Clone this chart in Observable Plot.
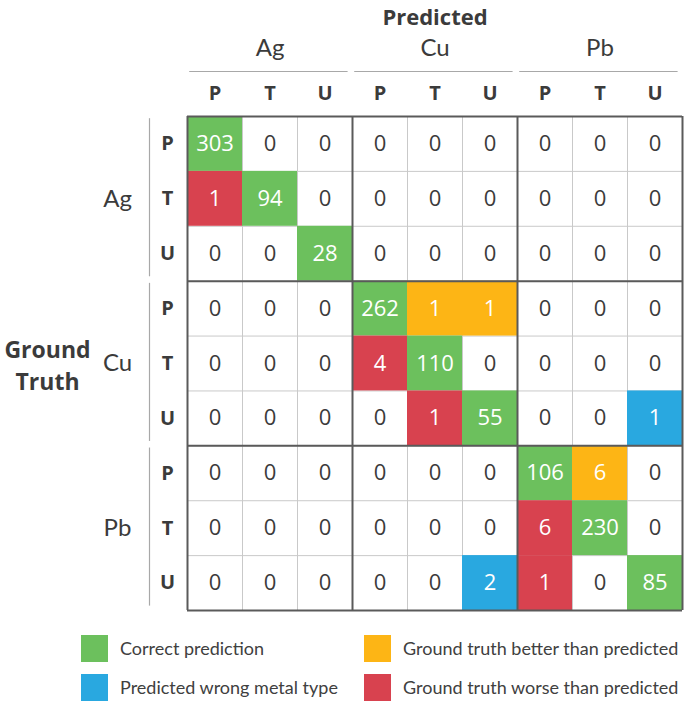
<!DOCTYPE html>
<html>
<head>
<meta charset="utf-8">
<script src="https://cdn.jsdelivr.net/npm/d3@7"></script>
<script src="https://cdn.jsdelivr.net/npm/@observablehq/plot@0.6"></script>
<style>
  html, body { margin: 0; padding: 0; background: #fff; }
  #wrap { position: relative; width: 685px; height: 704px; }
  #legend { position: absolute; left: 0; top: 0; width: 685px; height: 704px; pointer-events: none; }
  .sw { position: absolute; width: 27px; height: 27px; }
  .lt { position: absolute; font-family: Lato, "Open Sans", sans-serif; font-size: 18px; color: #404040; line-height: 27px; white-space: nowrap; }
</style>
</head>
<body>
<div id="wrap"><div id="chart"></div><div id="legend"></div></div>
<script>
// ---- data ----
const metals = ["Ag", "Cu", "Pb"];
const classes = ["P", "T", "U"];
// rows = ground truth (Ag P,T,U, Cu P,T,U, Pb P,T,U); columns = predicted (same order)
const rowAgP = [303, 0, 0, 0, 0, 0, 0, 0, 0];
const rowAgT = [1, 94, 0, 0, 0, 0, 0, 0, 0];
const rowAgU = [0, 0, 28, 0, 0, 0, 0, 0, 0];
const rowCuP = [0, 0, 0, 262, 1, 1, 0, 0, 0];
const rowCuT = [0, 0, 0, 4, 110, 0, 0, 0, 0];
const rowCuU = [0, 0, 0, 0, 1, 55, 0, 0, 1];
const rowPbP = [0, 0, 0, 0, 0, 0, 106, 6, 0];
const rowPbT = [0, 0, 0, 0, 0, 0, 6, 230, 0];
const rowPbU = [0, 0, 0, 0, 0, 2, 1, 0, 85];
const matrix = [rowAgP, rowAgT, rowAgU, rowCuP, rowCuT, rowCuU, rowPbP, rowPbT, rowPbU];

const kinds = ["correct", "wrong", "better", "worse"];
const kindLabels = ["Correct prediction", "Predicted wrong metal type", "Ground truth better than predicted", "Ground truth worse than predicted"];
const kindColors = ["#6cc05d", "#29a8e0", "#fdb515", "#d8424f"];

// ---- build table ----
const keys = metals.flatMap(m => classes.map(c => ({metal: m, cls: c})));
const cells = [];
matrix.forEach((row, r) => row.forEach((v, c) => {
  const sameMetal = Math.floor(r / 3) === Math.floor(c / 3);
  const kind = v === 0 ? null : (!sameMetal ? "wrong" : r === c ? "correct" : c > r ? "better" : "worse");
  cells.push({row: r, col: c, value: v, kind});
}));
const idx = keys.map((k, i) => ({...k, i}));
const groupIdx = metals.map((m, g) => ({metal: m, g}));

const dark = "#3b3b3b";
const numFont = "'Open Sans', sans-serif";
const lightFont = "Lato, 'Open Sans', sans-serif";

const chart = Plot.plot({
  width: 685,
  height: 620,
  marginTop: 116,
  marginLeft: 187,
  marginRight: 3,
  marginBottom: 10,
  style: {background: "#fff", overflow: "visible"},
  x: {domain: [0, 9], axis: null},
  y: {domain: [0, 9], reverse: true, axis: null},
  color: {domain: kinds, range: kindColors},
  marks: [
    // thin grid lines
    Plot.ruleX(d3.range(1, 9), {x: d => d, y1: 0, y2: 9, stroke: "#c9c9c9", strokeWidth: 1}),
    Plot.ruleY(d3.range(1, 9), {y: d => d, x1: 0, x2: 9, stroke: "#c9c9c9", strokeWidth: 1}),
    // colored cells
    Plot.rect(cells.filter(d => d.kind), {x1: d => d.col, x2: d => d.col + 1, y1: d => d.row, y2: d => d.row + 1, fill: "kind"}),
    // thick block borders
    Plot.ruleX([0, 3, 6, 9], {x: d => d, y1: 0, y2: 9, stroke: "#5a5a5a", strokeWidth: 2}),
    Plot.ruleY([0, 3, 6, 9], {y: d => d, x1: 0, x2: 9, stroke: "#5a5a5a", strokeWidth: 2}),
    // cell values
    Plot.text(cells, {x: d => d.col + 0.5, y: d => d.row + 0.5, text: d => String(d.value),
      fill: d => d.kind ? "#ffffff" : dark, fontSize: 22, fontWeight: 500, fontFamily: numFont}),
    // column class headers
    Plot.text(idx, {x: d => d.i + 0.5, y: 0, dy: -23, text: "cls", fill: dark, fontSize: 20, fontWeight: 700, fontFamily: numFont}),
    // column metal headers + underline
    Plot.text(groupIdx, {x: d => d.g * 3 + 1.5, y: 0, dy: -68, text: "metal", fill: dark, fontSize: 24, fontWeight: 400, fontFamily: lightFont}),
    Plot.ruleY(groupIdx, {y: 0, dy: -45, x1: d => d.g * 3 + 0.04, x2: d => d.g * 3 + 2.92, stroke: "#a8a8a8", strokeWidth: 1.2}),
    Plot.text(["Predicted"], {x: 4.5, y: 0, dy: -99, text: d => d, fill: dark, fontSize: 22, fontWeight: 700, fontFamily: numFont}),
    // row class headers
    Plot.text(idx, {x: 0, dx: -20, y: d => d.i + 0.5, text: "cls", fill: dark, fontSize: 20, fontWeight: 700, fontFamily: numFont}),
    // row metal headers + separators
    Plot.ruleX(groupIdx, {x: 0, dx: -38, y1: d => d.g * 3 + 0.04, y2: d => d.g * 3 + 2.92, stroke: "#a8a8a8", strokeWidth: 1.2}),
    Plot.text(groupIdx, {x: 0, dx: -70, y: d => d.g * 3 + 1.5, text: "metal", fill: dark, fontSize: 24, fontWeight: 400, fontFamily: lightFont}),
    Plot.text(["Ground\nTruth"], {x: 0, dx: -140, y: 4.5, text: d => d, fill: dark, fontSize: 23, fontWeight: 700, lineHeight: 1.38, fontFamily: numFont})
  ]
});
document.getElementById("chart").appendChild(chart);

// ---- legend (HTML, below the svg) ----
const legend = document.getElementById("legend");
const legendPos = [[81, 635], [81, 674], [364, 635], [364, 674]];
kinds.forEach((k, i) => {
  const [lx, ly] = legendPos[i];
  const sw = document.createElement("div");
  sw.className = "sw";
  sw.style.left = lx + "px"; sw.style.top = ly + "px";
  sw.style.background = kindColors[i];
  legend.appendChild(sw);
  const t = document.createElement("div");
  t.className = "lt";
  t.style.left = (lx + 39) + "px"; t.style.top = ly + "px";
  t.textContent = kindLabels[i];
  legend.appendChild(t);
});
</script>
</body>
</html>
